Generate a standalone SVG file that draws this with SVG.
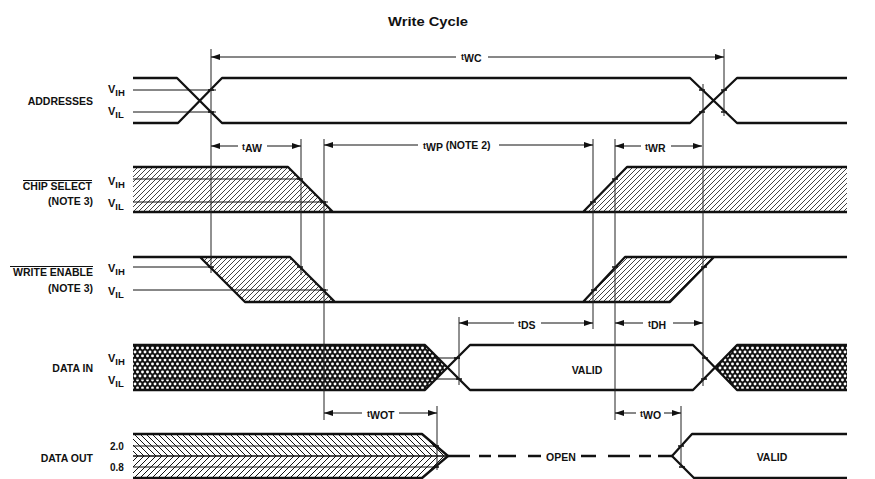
<svg xmlns="http://www.w3.org/2000/svg" width="875" height="479" viewBox="0 0 875 479">
<style>
text{font-family:"Liberation Sans",Arial,sans-serif;font-weight:bold;fill:#111}
.lbl{font-size:10.5px;text-anchor:end}
.v{font-size:11px}
.sub{font-size:9.5px}
.tl{font-size:9px}
.ts{font-size:10.5px}
.sig{fill:none;stroke:#111;stroke-width:2.3;stroke-linejoin:round}
.thr{fill:none;stroke:#111;stroke-width:1}
.vert{fill:none;stroke:#222;stroke-width:1}
.arr{fill:none;stroke:#111;stroke-width:1;marker-end:url(#ah)}
.tick{stroke:#111;stroke-width:1.6}
</style>
<defs>
<marker id="ah" viewBox="0 0 9 6" refX="9" refY="3" markerWidth="9" markerHeight="6" markerUnits="userSpaceOnUse" orient="auto"><path d="M0,0 L9,3 L0,6 z" fill="#111"/></marker>
<pattern id="fw" patternUnits="userSpaceOnUse" width="5" height="5"><path d="M-1,1 l2,-2 M0,5 l5,-5 M4,6 l2,-2" stroke="#111" stroke-width="0.8"/></pattern>
<pattern id="bw" patternUnits="userSpaceOnUse" width="6" height="6"><path d="M-1,5 l2,2 M0,0 l6,6 M5,-1 l2,2" stroke="#111" stroke-width="1"/></pattern>
<pattern id="fw6" patternUnits="userSpaceOnUse" width="6" height="6"><path d="M-1,1 l2,-2 M0,6 l6,-6 M5,7 l2,-2" stroke="#111" stroke-width="1"/></pattern>
<pattern id="xh" patternUnits="userSpaceOnUse" width="5" height="8"><rect width="5" height="8" fill="#111"/><circle cx="0" cy="0" r="1.45" fill="#fff"/><circle cx="5" cy="0" r="1.45" fill="#fff"/><circle cx="0" cy="8" r="1.45" fill="#fff"/><circle cx="5" cy="8" r="1.45" fill="#fff"/><circle cx="2.5" cy="4" r="1.45" fill="#fff"/></pattern>
</defs>
<rect width="875" height="479" fill="#fff"/>
<text x="388" y="26" font-size="12" textLength="80" lengthAdjust="spacingAndGlyphs">Write Cycle</text>

<g id="addresses">
<text class="lbl" x="93" y="105">ADDRESSES</text>
<text class="v" x="108" y="93">V<tspan class="sub" dy="3">IH</tspan></text>
<text class="v" x="108" y="115">V<tspan class="sub" dy="3">IL</tspan></text>
<path class="thr" d="M133,90 H216 M133,112 H216"/>
<path class="sig" d="M133,78 H177 L222,123 H690 L737,78 H847 M133,123 H178 L222,78 H690 L737,123 H847"/>
<path class="tick" d="M208,90 h6 M208,112 h6 M699,90 h6 M699,112 h6 M721,90 h6 M721,112 h6"/>
</g>

<g id="chip-select">
<text class="lbl" x="92" y="190">CHIP SELECT</text>
<line x1="23" y1="180.5" x2="92" y2="180.5" stroke="#111" stroke-width="1"/>
<text class="lbl" x="93" y="205">(NOTE 3)</text>
<text class="v" x="108" y="185">V<tspan class="sub" dy="3">IH</tspan></text>
<text class="v" x="108" y="207">V<tspan class="sub" dy="3">IL</tspan></text>
<path d="M133,167 H288 L333,212 H133 Z" fill="url(#fw)"/>
<path d="M583,212 L627,167 H847 V212 Z" fill="url(#fw)"/>
<path class="thr" d="M133,179 H301 M133,202 H328"/>
<path class="sig" d="M133,167 H288 L333,212 M133,212 H847 M583,212 L627,167 H847"/>
<path class="tick" d="M297,179 h6 M320,202 h6 M590,202 h6 M612,179 h6"/>
</g>

<g id="write-enable">
<text class="lbl" x="93" y="276">WRITE ENABLE</text>
<line x1="10" y1="266.5" x2="93" y2="266.5" stroke="#111" stroke-width="1"/>
<text class="lbl" x="93" y="292">(NOTE 3)</text>
<text class="v" x="108" y="272">V<tspan class="sub" dy="3">IH</tspan></text>
<text class="v" x="108" y="295">V<tspan class="sub" dy="3">IL</tspan></text>
<path d="M200,257 H290 L335,302 H245 Z" fill="url(#fw)"/>
<path d="M583,302 L625,257 H714 L670,302 Z" fill="url(#fw)"/>
<path class="thr" d="M133,267 H208 M133,290 H328"/>
<path class="sig" d="M133,257 H290 L335,302 M200,257 L245,302 H670 L714,257 M583,302 L625,257 H847"/>
<path class="tick" d="M208,267 h6 M297,267 h6 M320,290 h6 M591,290 h6 M612,267 h6 M701,267 h6"/>
</g>

<g id="data-in">
<text class="lbl" x="93" y="372">DATA IN</text>
<text class="v" x="108" y="362">V<tspan class="sub" dy="3">IH</tspan></text>
<text class="v" x="108" y="384">V<tspan class="sub" dy="3">IL</tspan></text>
<path d="M133,345 H425 L447.5,367.5 L425,390 H133 Z" fill="url(#xh)"/>
<path d="M715,367.5 L737,345 H847 V390 H737 Z" fill="url(#xh)"/>
<path class="thr" d="M133,358 H460 M133,379 H460"/>
<path class="sig" d="M133,345 H425 L470,390 H693 L737,345 H847 M133,390 H425 L470,345 H693 L737,390 H847"/>
<path class="tick" d="M454,358 h6 M456,379 h6 M702,358 h6 M701,379 h6"/>
<text x="587" y="374" font-size="10.5" text-anchor="middle">VALID</text>
</g>

<g id="data-out">
<text class="lbl" x="93" y="462">DATA OUT</text>
<text x="110" y="450" font-size="10">2.0</text>
<text x="110" y="471" font-size="10">0.8</text>
<path d="M133,434 H422 L448,456 H133 Z" fill="url(#bw)"/>
<path d="M133,456 H448 L422,478 H133 Z" fill="url(#fw6)"/>
<path class="thr" d="M133,446 H438 M133,467 H438"/>
<path d="M133,456 H448" stroke="#111" stroke-width="1.6"/>
<path class="sig" d="M133,434 H422 L448,456 L422,478 H133"/>
<path d="M448,456 H672" stroke="#111" stroke-width="2.3" stroke-dasharray="22,9,12,7,18,12" fill="none"/>
<rect x="541" y="449" width="40" height="14" fill="#fff"/>
<text x="561" y="461" font-size="10.5" text-anchor="middle">OPEN</text>
<path class="sig" d="M847,434 H692 L672,456 L694,478 H847"/>
<path class="tick" d="M433,446 h6 M433,467 h6 M678,446 h6 M679,467 h6"/>
<text x="772" y="461" font-size="10.5" text-anchor="middle">VALID</text>
</g>

<g id="connectors">
<path class="vert" d="M211,49 V273 M301,139 V275 M324,139 V420 M593,139 V329 M615,139 V420 M703,84 V386 M724,49 V116 M459,317 V385 M437,406 V470 M681,406 V465"/>
<path class="arr" d="M456,57 H211"/><path class="arr" d="M488,57 H724"/>
<text x="461" y="60"><tspan class="tl">t</tspan><tspan class="ts" dy="2">WC</tspan></text>
<path class="arr" d="M238,146 H211"/><path class="arr" d="M267,146 H301"/>
<text x="242" y="150"><tspan class="tl">t</tspan><tspan class="ts" dy="2">AW</tspan></text>
<path class="arr" d="M418,145 H324"/><path class="arr" d="M499,145 H593"/>
<text x="423" y="149"><tspan class="tl">t</tspan><tspan class="ts" dy="2">WP</tspan><tspan class="ts" dy="-2"> (NOTE 2)</tspan></text>
<path class="arr" d="M641,146 H615"/><path class="arr" d="M671,146 H702"/>
<text x="645" y="150"><tspan class="tl">t</tspan><tspan class="ts" dy="2">WR</tspan></text>
<path class="arr" d="M514,323 H459"/><path class="arr" d="M541,323 H593"/>
<text x="518" y="327"><tspan class="tl">t</tspan><tspan class="ts" dy="2">DS</tspan></text>
<path class="arr" d="M643,323 H615"/><path class="arr" d="M673,323 H703"/>
<text x="648" y="327"><tspan class="tl">t</tspan><tspan class="ts" dy="2">DH</tspan></text>
<path class="arr" d="M362,413 H324"/><path class="arr" d="M399,413 H437"/>
<text x="367" y="417"><tspan class="tl">t</tspan><tspan class="ts" dy="2">WOT</tspan></text>
<path class="arr" d="M636,413 H615"/><path class="arr" d="M664,413 H681"/>
<text x="640" y="417"><tspan class="tl">t</tspan><tspan class="ts" dy="2">WO</tspan></text>
</g>
</svg>
